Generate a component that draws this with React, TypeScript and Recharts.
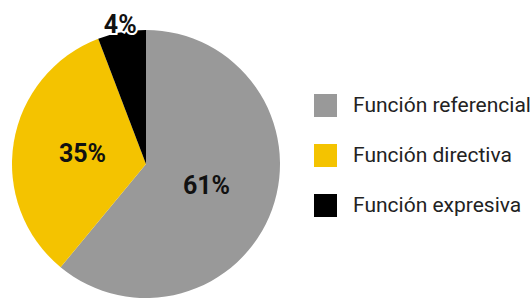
import React from "react";
import { PieChart, Pie, Cell, Legend } from "recharts";

const categories = ["Función referencial", "Función directiva", "Función expresiva"];
const values = [61, 33.2, 5.8];
const labels = ["61%", "35%", "4%"];
const colors = ["#999999", "#F4C300", "#000000"];

const data = categories.map((name, i) => ({ name, value: values[i], label: labels[i] }));

const RADIAN = Math.PI / 180;

const renderLabel = (props: any) => {
  const { cx, cy, midAngle, outerRadius, percent, index } = props;
  const small = percent < 0.1;
  const r = small ? outerRadius * 1.06 : outerRadius * 0.48;
  const x = cx + r * Math.cos(-midAngle * RADIAN);
  const y = cy + r * Math.sin(-midAngle * RADIAN);
  return (
    <text
      x={x}
      y={y}
      textAnchor="middle"
      dominantBaseline="central"
      fill="#111"
      fontSize={25}
      fontWeight={700}
      fontFamily="Roboto, sans-serif"
      stroke={small ? "#fff" : "none"}
      strokeWidth={small ? 4 : 0}
      paintOrder="stroke"
    >
      {labels[index]}
    </text>
  );
};

const LegendContent = () => (
  <div style={{ fontFamily: "Roboto, sans-serif" }}>
    {data.map((d, i) => (
      <div key={d.name} style={{ display: "flex", alignItems: "center", height: 50 }}>
        <div style={{ width: 23, height: 23, background: colors[i], marginRight: 16, flexShrink: 0 }} />
        <span style={{ fontSize: 21, color: "#222", whiteSpace: "nowrap" }}>{d.name}</span>
      </div>
    ))}
  </div>
);

export default function App() {
  return (
    <div style={{ position: "absolute", left: 0, top: 0, background: "#fff" }}>
      <PieChart width={531} height={298} margin={{ top: 0, right: 0, bottom: 0, left: 0 }}>
        <Pie
          data={data}
          dataKey="value"
          nameKey="name"
          cx={146}
          cy={164}
          outerRadius={134}
          startAngle={90}
          endAngle={-270}
          stroke="none"
          labelLine={false}
          label={renderLabel}
          isAnimationActive={false}
        >
          {data.map((d, i) => (
            <Cell key={d.name} fill={colors[i]} />
          ))}
        </Pie>
        <Legend
          content={<LegendContent />}
          wrapperStyle={{ position: "absolute", left: 314, top: 80, width: 217 }}
        />
      </PieChart>
    </div>
  );
}
